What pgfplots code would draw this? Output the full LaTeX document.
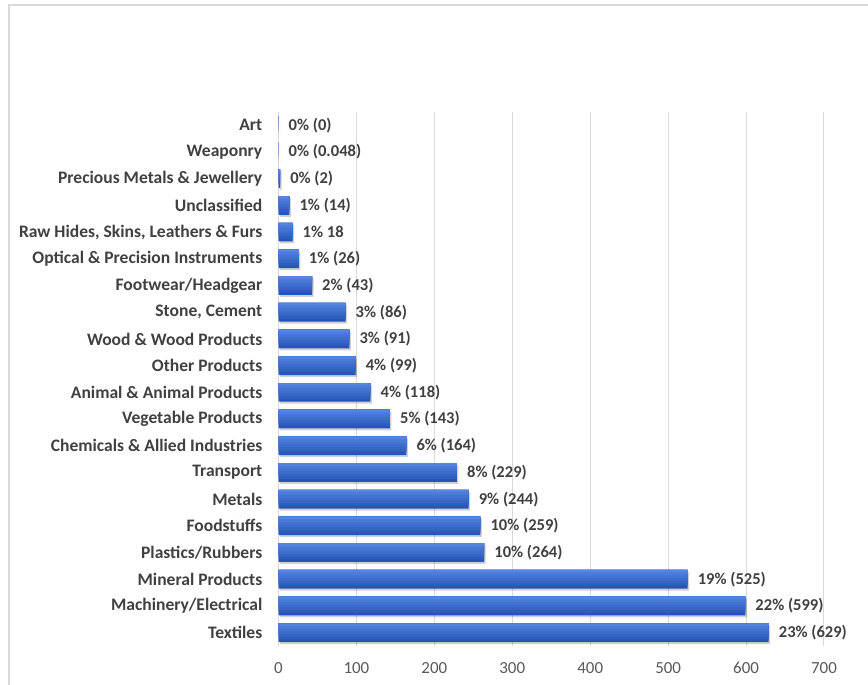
\documentclass[border=0pt]{standalone}
\usepackage{pgfplots}
\usepackage{pgfplotstable}
\pgfplotsset{compat=1.18}
\usepackage{fontspec}
\setmainfont{Carlito}
\definecolor{lab}{RGB}{64,64,64}
\definecolor{tickc}{RGB}{89,89,89}
\definecolor{gridc}{RGB}{217,217,217}
\definecolor{b0}{RGB}{40,84,182}
\definecolor{b1}{RGB}{47,92,191}
\definecolor{b2}{RGB}{54,100,199}
\definecolor{b3}{RGB}{61,108,206}
\definecolor{b4}{RGB}{68,115,211}
\definecolor{b5}{RGB}{76,122,216}
\definecolor{b6}{RGB}{85,131,222}
\pgfplotstableread[col sep=comma]{
val,idx,lbl
629,0,{23\% (629)}
599,1,{22\% (599)}
525,2,{19\% (525)}
264,3,{10\% (264)}
259,4,{10\% (259)}
244,5,{9\% (244)}
229,6,{8\% (229)}
164,7,{6\% (164)}
143,8,{5\% (143)}
118,9,{4\% (118)}
99,10,{4\% (99)}
91,11,{3\% (91)}
86,12,{3\% (86)}
43,13,{2\% (43)}
26,14,{1\% (26)}
18,15,{1\% 18}
14,16,{1\% (14)}
2,17,{0\% (2)}
0.048,18,{0\% (0.048)}
0,19,{0\% (0)}
}\datatable
\begin{document}
\begin{tikzpicture}
\path[use as bounding box] (0bp,0bp) rectangle (868bp,-685bp);
\draw[gridc, line width=1.2bp] (9bp,-700bp) -- (9bp,-5bp) -- (880bp,-5bp);
\begin{axis}[
  at={(278.5bp,-646bp)}, anchor=south west,
  scale only axis, width=545.5bp, height=534bp,
  xbar, bar width=0.7,
  xmin=0, xmax=700, ymin=-0.5, ymax=19.5,
  xtick={0,100,...,700},
  ytick={0,...,19},
  yticklabels={Textiles, Machinery/Electrical, Mineral Products, Plastics/Rubbers, Foodstuffs, Metals, Transport, Chemicals \& Allied Industries, Vegetable Products, Animal \& Animal Products, Other Products, Wood \& Wood Products, {Stone, Cement}, Footwear/Headgear, Optical \& Precision Instruments, {Raw Hides, Skins, Leathers \& Furs}, Unclassified, Precious Metals \& Jewellery, Weaponry, Art},
  axis lines*=left, axis line style={draw=none},
  major tick length=0pt,
  xmajorgrids, grid style={gridc, line width=1bp},
  yticklabel style={font=\bfseries\fontsize{17.6}{17.6}\selectfont, text=lab, inner sep=0pt, xshift=-16bp},
  xticklabel style={font=\fontsize{17}{17}\selectfont, text=tickc, inner sep=0pt, yshift=-16bp},
  /pgf/number format/assume math mode=true,
]
\addplot[draw=none, fill=b0, bar width=0.7, bar shift=0,
  preaction={fill=black, fill opacity=0.18, transform canvas={xshift=1.5bp, yshift=-2bp}},
  point meta=explicit symbolic,
  nodes near coords,
  nodes near coords style={font=\bfseries\fontsize{16.6}{16.6}\selectfont, text=lab, anchor=west, inner sep=0pt, xshift=10bp}]
  table[x=val, y=idx, meta=lbl] {\datatable};
\addplot[draw=none, fill=b1, bar width=0.6, bar shift=0.05] table[x=val, y=idx] {\datatable};
\addplot[draw=none, fill=b2, bar width=0.5, bar shift=0.10] table[x=val, y=idx] {\datatable};
\addplot[draw=none, fill=b3, bar width=0.4, bar shift=0.15] table[x=val, y=idx] {\datatable};
\addplot[draw=none, fill=b4, bar width=0.3, bar shift=0.20] table[x=val, y=idx] {\datatable};
\addplot[draw=none, fill=b5, bar width=0.2, bar shift=0.25] table[x=val, y=idx] {\datatable};
\addplot[draw=none, fill=b6, bar width=0.1, bar shift=0.30] table[x=val, y=idx] {\datatable};
\end{axis}
\end{tikzpicture}
\end{document}
